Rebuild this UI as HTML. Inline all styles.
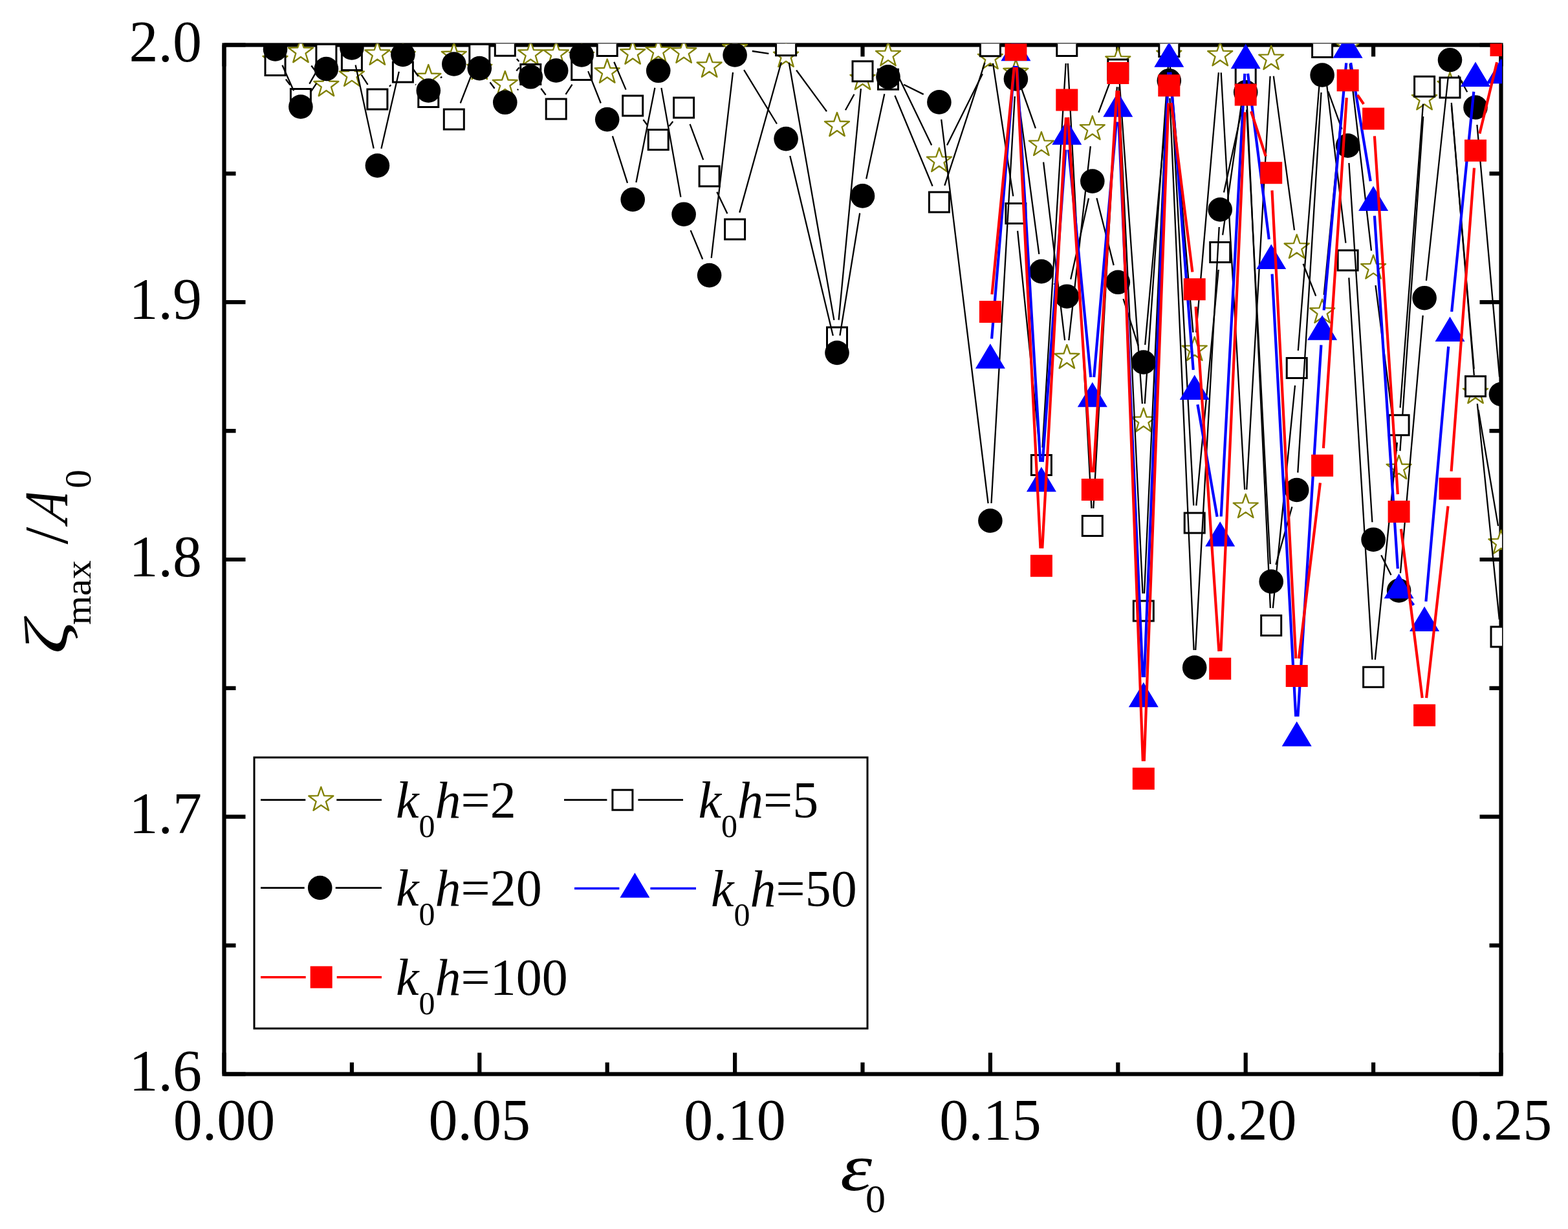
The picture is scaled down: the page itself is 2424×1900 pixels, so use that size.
<!DOCTYPE html><html><head><meta charset="utf-8"><title>plot</title><style>html,body{margin:0;padding:0;background:#fff;}svg{display:block;}text{font-family:"Liberation Serif","Times New Roman",serif;fill:#000;}</style></head><body>
<svg width="2424" height="1900" viewBox="0 0 2424 1900">
<rect width="2424" height="1900" fill="#fff"/>
<defs><clipPath id="cp"><rect x="344.5" y="67.5" width="1977.5" height="1595"/></clipPath></defs>
<path d="M346.5 1660.5v-33M346.5 69.5v33M543.9 1660.5v-18M543.9 69.5v18M741.3 1660.5v-33M741.3 69.5v33M938.7 1660.5v-18M938.7 69.5v18M1136.1 1660.5v-33M1136.1 69.5v33M1333.5 1660.5v-18M1333.5 69.5v18M1530.9 1660.5v-33M1530.9 69.5v33M1728.3 1660.5v-18M1728.3 69.5v18M1925.7 1660.5v-33M1925.7 69.5v33M2123.1 1660.5v-18M2123.1 69.5v18M2320.5 1660.5v-33M2320.5 69.5v33M346.5 1660.5h33M2320.5 1660.5h-33M346.5 1461.6h18M2320.5 1461.6h-18M346.5 1262.7h33M2320.5 1262.7h-33M346.5 1063.9h18M2320.5 1063.9h-18M346.5 865h33M2320.5 865h-33M346.5 666.1h18M2320.5 666.1h-18M346.5 467.2h33M2320.5 467.2h-33M346.5 268.4h18M2320.5 268.4h-18M346.5 69.5h33M2320.5 69.5h-33" stroke="#000" stroke-width="6.2" fill="none"/>
<rect x="346.5" y="69.5" width="1974" height="1591" fill="none" stroke="#000" stroke-width="6.2"/>
<g clip-path="url(#cp)">
<path d="M481.3 101.5L488.1 110.5M798.3 109.5L802.7 104.2M1162.8 79L1188.4 82.8M1231.1 108.5L1278 172.3M1307 170.3L1320.5 145.7M1384.7 109.4L1440.2 224.5M1464 224.6L1518.9 114.2M1579.4 137.5L1600.9 198.4M1613.1 250.7L1646.1 526.2M1652.3 526.2L1685.8 226.1M1698.3 174L1718.9 118.9M1730.2 120.5L1765.9 624.1M1769.7 624.1L1805.4 111.7M1809.6 111.7L1844.4 513.9M1849.1 513.9L1883.9 112.1M1887.7 112.2L1924.2 756.9M1927.2 756.9L1963.6 117.8M1968.8 117.6L2001 355.9M2014.6 407.8L2034.2 457.6M2046.7 455.8L2081 98.9M2086.7 98.8L2120 387.6M2126.5 441.2L2159.2 697.2M2164.4 697.1L2200.2 180.1M2243.8 158.9L2278.8 580.1M2285.5 633.6L2316 813.1" stroke="#000" stroke-width="2.3" fill="none"/>
<path d="M425.5 73L430.2 86.5L444.5 86.8L433.1 95.5L437.2 109.2L425.5 101L413.7 109.2L417.9 95.5L406.4 86.8L420.8 86.5ZM464.9 60L469.6 73.5L484 73.8L472.5 82.5L476.7 96.2L464.9 88L453.2 96.2L457.3 82.5L445.9 73.8L460.2 73.5ZM504.4 112L509.1 125.5L523.4 125.8L512 134.5L516.2 148.2L504.4 140L492.7 148.2L496.8 134.5L485.4 125.8L499.7 125.5ZM543.9 96.6L548.6 110.1L562.9 110.4L551.5 119.1L555.7 132.8L543.9 124.6L532.1 132.8L536.3 119.1L524.9 110.4L539.2 110.1ZM583.4 63.7L588.1 77.2L602.4 77.5L591 86.2L595.1 99.9L583.4 91.7L571.6 99.9L575.8 86.2L564.4 77.5L578.7 77.2ZM622.9 66L627.6 79.5L641.9 79.8L630.5 88.5L634.6 102.2L622.9 94L611.1 102.2L615.3 88.5L603.8 79.8L618.2 79.5ZM662.3 100L667 113.5L681.4 113.8L669.9 122.5L674.1 136.2L662.3 128L650.6 136.2L654.7 122.5L643.3 113.8L657.6 113.5ZM701.8 66L706.5 79.5L720.8 79.8L709.4 88.5L713.6 102.2L701.8 94L690.1 102.2L694.2 88.5L682.8 79.8L697.1 79.5ZM741.3 86L746 99.5L760.3 99.8L748.9 108.5L753.1 122.2L741.3 114L729.5 122.2L733.7 108.5L722.3 99.8L736.6 99.5ZM780.8 110L785.5 123.5L799.8 123.8L788.4 132.5L792.5 146.2L780.8 138L769 146.2L773.2 132.5L761.8 123.8L776.1 123.5ZM820.3 63.7L825 77.2L839.3 77.5L827.9 86.2L832 99.9L820.3 91.7L808.5 99.9L812.7 86.2L801.2 77.5L815.6 77.2ZM859.7 63.7L864.4 77.2L878.8 77.5L867.3 86.2L871.5 99.9L859.7 91.7L848 99.9L852.1 86.2L840.7 77.5L855 77.2ZM899.2 67L903.9 80.5L918.2 80.8L906.8 89.5L911 103.2L899.2 95L887.5 103.2L891.6 89.5L880.2 80.8L894.5 80.5ZM938.7 91.5L943.4 105L957.7 105.3L946.3 114L950.5 127.7L938.7 119.5L926.9 127.7L931.1 114L919.7 105.3L934 105ZM978.2 62.5L982.9 76L997.2 76.3L985.8 85L989.9 98.7L978.2 90.5L966.4 98.7L970.6 85L959.2 76.3L973.5 76ZM1017.7 59.3L1022.4 72.8L1036.7 73.1L1025.3 81.8L1029.4 95.5L1017.7 87.3L1005.9 95.5L1010.1 81.8L998.6 73.1L1013 72.8ZM1057.1 60.7L1061.8 74.2L1076.2 74.5L1064.7 83.2L1068.9 96.9L1057.1 88.7L1045.4 96.9L1049.5 83.2L1038.1 74.5L1052.4 74.2ZM1096.6 82.7L1101.3 96.2L1115.6 96.5L1104.2 105.2L1108.4 118.9L1096.6 110.7L1084.9 118.9L1089 105.2L1077.6 96.5L1091.9 96.2ZM1136.1 55L1140.8 68.5L1155.1 68.8L1143.7 77.5L1147.9 91.2L1136.1 83L1124.3 91.2L1128.5 77.5L1117.1 68.8L1131.4 68.5ZM1215.1 66.8L1219.8 80.3L1234.1 80.6L1222.7 89.3L1226.8 103L1215.1 94.8L1203.3 103L1207.5 89.3L1196 80.6L1210.4 80.3ZM1294 174L1298.7 187.5L1313 187.8L1301.6 196.5L1305.8 210.2L1294 202L1282.3 210.2L1286.4 196.5L1275 187.8L1289.3 187.5ZM1333.5 102L1338.2 115.5L1352.5 115.8L1341.1 124.5L1345.3 138.2L1333.5 130L1321.7 138.2L1325.9 124.5L1314.5 115.8L1328.8 115.5ZM1373 65.1L1377.7 78.6L1392 78.9L1380.6 87.6L1384.7 101.3L1373 93.1L1361.2 101.3L1365.4 87.6L1354 78.9L1368.3 78.6ZM1451.9 228.8L1456.6 242.3L1471 242.6L1459.5 251.3L1463.7 265L1451.9 256.8L1440.2 265L1444.3 251.3L1432.9 242.6L1447.2 242.3ZM1530.9 70L1535.6 83.5L1549.9 83.8L1538.5 92.5L1542.7 106.2L1530.9 98L1519.1 106.2L1523.3 92.5L1511.9 83.8L1526.2 83.5ZM1570.4 92L1575.1 105.5L1589.4 105.8L1578 114.5L1582.1 128.2L1570.4 120L1558.6 128.2L1562.8 114.5L1551.4 105.8L1565.7 105.5ZM1609.9 203.9L1614.6 217.4L1628.9 217.7L1617.5 226.4L1621.6 240.1L1609.9 231.9L1598.1 240.1L1602.3 226.4L1590.8 217.7L1605.2 217.4ZM1649.3 533L1654 546.5L1668.4 546.8L1656.9 555.5L1661.1 569.2L1649.3 561L1637.6 569.2L1641.7 555.5L1630.3 546.8L1644.6 546.5ZM1688.8 179.3L1693.5 192.8L1707.8 193.1L1696.4 201.8L1700.6 215.5L1688.8 207.3L1677.1 215.5L1681.2 201.8L1669.8 193.1L1684.1 192.8ZM1728.3 73.6L1733 87.1L1747.3 87.4L1735.9 96.1L1740.1 109.8L1728.3 101.6L1716.5 109.8L1720.7 96.1L1709.3 87.4L1723.6 87.1ZM1767.8 631L1772.5 644.5L1786.8 644.8L1775.4 653.5L1779.5 667.2L1767.8 659L1756 667.2L1760.2 653.5L1748.8 644.8L1763.1 644.5ZM1807.3 64.8L1812 78.3L1826.3 78.6L1814.9 87.3L1819 101L1807.3 92.8L1795.5 101L1799.7 87.3L1788.2 78.6L1802.6 78.3ZM1846.7 520.8L1851.4 534.3L1865.8 534.6L1854.3 543.3L1858.5 557L1846.7 548.8L1835 557L1839.1 543.3L1827.7 534.6L1842 534.3ZM1886.2 65.2L1890.9 78.7L1905.2 79L1893.8 87.7L1898 101.4L1886.2 93.2L1874.5 101.4L1878.6 87.7L1867.2 79L1881.5 78.7ZM1925.7 763.9L1930.4 777.4L1944.7 777.7L1933.3 786.4L1937.5 800.1L1925.7 791.9L1913.9 800.1L1918.1 786.4L1906.7 777.7L1921 777.4ZM1965.2 70.8L1969.9 84.3L1984.2 84.6L1972.8 93.3L1976.9 107L1965.2 98.8L1953.4 107L1957.6 93.3L1946.2 84.6L1960.5 84.3ZM2004.7 362.7L2009.4 376.2L2023.7 376.5L2012.3 385.2L2016.4 398.9L2004.7 390.7L1992.9 398.9L1997.1 385.2L1985.6 376.5L2000 376.2ZM2044.1 462.7L2048.8 476.2L2063.2 476.5L2051.7 485.2L2055.9 498.9L2044.1 490.7L2032.4 498.9L2036.5 485.2L2025.1 476.5L2039.4 476.2ZM2083.6 52L2088.3 65.5L2102.6 65.8L2091.2 74.5L2095.4 88.2L2083.6 80L2071.9 88.2L2076 74.5L2064.6 65.8L2078.9 65.5ZM2123.1 394.4L2127.8 407.9L2142.1 408.2L2130.7 416.9L2134.9 430.6L2123.1 422.4L2111.3 430.6L2115.5 416.9L2104.1 408.2L2118.4 407.9ZM2162.6 704L2167.3 717.5L2181.6 717.8L2170.2 726.5L2174.3 740.2L2162.6 732L2150.8 740.2L2155 726.5L2143.6 717.8L2157.9 717.5ZM2202.1 133.2L2206.8 146.7L2221.1 147L2209.7 155.7L2213.8 169.4L2202.1 161.2L2190.3 169.4L2194.5 155.7L2183 147L2197.4 146.7ZM2241.5 112L2246.2 125.5L2260.6 125.8L2249.1 134.5L2253.3 148.2L2241.5 140L2229.8 148.2L2233.9 134.5L2222.5 125.8L2236.8 125.5ZM2281 587L2285.7 600.5L2300 600.8L2288.6 609.5L2292.8 623.2L2281 615L2269.3 623.2L2273.4 609.5L2262 600.8L2276.3 600.5ZM2320.5 819.7L2325.2 833.2L2339.5 833.5L2328.1 842.2L2332.3 855.9L2320.5 847.7L2308.7 855.9L2312.9 842.2L2301.5 833.5L2315.8 833.2Z" stroke="#808000" stroke-width="2.3" fill="#fff" stroke-linejoin="round"/>
<path d="M441.8 122.5L448.6 131.5M478.3 129.6L491 107.4M558.7 115.6L568.6 130.9M601.9 133.8L604.4 131.2M642.2 130.4L643 131.1M711.7 159.5L731.4 109.1M798.8 90.9L802.3 94.9M836.3 136.7L843.7 146.8M874.5 145.9L884.5 130.6M949.3 95.8L967.6 138.6M994.4 185L1001.5 194.5M1034.5 195L1040.3 187.7M1066.6 191.9L1087.2 247.2M1108.3 296.8L1124.4 330.3M1143.3 328.6L1207.8 96.2M1219.7 96.8L1289.4 494.9M1296.6 494.6L1330.9 137.2M1383.4 147.7L1441.6 287.7M1460.3 286.9L1522.5 96.9M1535 97.9L1566.3 303.3M1573.1 356.9L1607.1 692M1611.5 691.9L1647.7 98M1650.8 98L1687.4 785.9M1690.3 785.9L1726.8 134.4M1729.6 134.4L1766.5 917.5M1769 917.5L1806 99M1808.7 99L1845.3 781.5M1849.3 781.6L1883.7 417M1890.1 363.4L1921.9 141.7M1926.9 142L1963.9 940M1967.8 940.1L2002 595.8M2006.8 542L2042 99.9M2047.4 99.8L2080.4 375.7M2085.3 429.4L2121.4 1019.8M2125.8 1019.8L2159.9 684.1M2164.6 630.3L2200 160.6M2243.8 162.3L2278.7 570.3M2283.8 624.1L2317.8 957.6" stroke="#000" stroke-width="2.3" fill="none"/>
<path d="M410 85.5h31v31h-31ZM449.4 137.5h31v31h-31ZM488.9 68.5h31v31h-31ZM528.4 77.5h31v31h-31ZM567.9 138h31v31h-31ZM607.4 96h31v31h-31ZM646.8 134.5h31v31h-31ZM686.3 169.1h31v31h-31ZM725.8 68.5h31v31h-31ZM765.3 55.3h31v31h-31ZM804.8 99.5h31v31h-31ZM844.2 153h31v31h-31ZM883.7 92.5h31v31h-31ZM923.2 55.5h31v31h-31ZM962.7 147.9h31v31h-31ZM1002.2 200.6h31v31h-31ZM1041.6 151.1h31v31h-31ZM1081.1 257h31v31h-31ZM1120.6 339.1h31v31h-31ZM1199.6 54.7h31v31h-31ZM1278.5 506h31v31h-31ZM1318 94.8h31v31h-31ZM1357.5 107.3h31v31h-31ZM1436.4 297.1h31v31h-31ZM1515.4 55.7h31v31h-31ZM1554.9 314.5h31v31h-31ZM1594.4 703.4h31v31h-31ZM1633.8 55.5h31v31h-31ZM1673.3 797.4h31v31h-31ZM1712.8 91.9h31v31h-31ZM1752.3 929h31v31h-31ZM1791.8 56.5h31v31h-31ZM1831.2 793h31v31h-31ZM1870.7 374.6h31v31h-31ZM1910.2 99.5h31v31h-31ZM1949.7 951.5h31v31h-31ZM1989.2 553.4h31v31h-31ZM2028.6 57.5h31v31h-31ZM2068.1 387h31v31h-31ZM2107.6 1031.2h31v31h-31ZM2147.1 641.7h31v31h-31ZM2186.6 118.2h31v31h-31ZM2226 119.9h31v31h-31ZM2265.5 581.7h31v31h-31ZM2305 969h31v31h-31Z" stroke="#000" stroke-width="3" fill="#fff"/>
<path d="M436.4 100.7L454 140.3M480 142.6L489.3 128.9M549.6 100.4L577.7 229.6M589.4 229.7L616.8 110.8M638.5 106.5L646.7 118M681.1 120.6L683.1 118.4M757.5 127.2L764.6 136.7M799.9 139.2L801.2 137.9M909.2 110.1L928.8 159.5M946.9 210.3L970 282.8M983.4 282L1012.4 135.8M1022.4 135.9L1052.4 304.6M1067.6 356.1L1086.2 400.7M1099.7 398.8L1133 111.8M1150.1 108.1L1201 191.5M1221.3 240.9L1287.8 519.1M1298.4 518.8L1329.2 329.5M1339.2 276.5L1367.3 145.2M1397.2 130.8L1427.7 145.9M1455.2 184.7L1527.6 778.2M1532.5 778L1568.8 149M1573.9 148.8L1606.3 392.8M1629.2 438.5L1630 439.3M1655.2 431.8L1683 306.5M1695.4 306.3L1721.7 410.1M1736.5 462L1759.6 534.3M1770.2 533.1L1804.8 151.6M1808.4 151.7L1845.6 1005M1848.2 1005L1884.7 351M1892 297.6L1920 168.9M1927.1 169.5L1963.8 872M1972.4 873L1997.4 783.5M2006.3 730.6L2042.5 142.9M2053.3 141.4L2074.4 199.7M2085.4 252L2121.4 807.3M2135.2 858.3L2150.5 888.9M2164.9 886.1L2199.7 487.6M2204.9 433.9L2238.7 119.5M2254.3 116.5L2268.2 142.2M2283.4 192.9L2318.1 582.6" stroke="#000" stroke-width="2.3" fill="none"/>
<g fill="#000"><circle cx="425.5" cy="76" r="18.8"/><circle cx="464.9" cy="165" r="18.8"/><circle cx="504.4" cy="106.5" r="18.8"/><circle cx="543.9" cy="74" r="18.8"/><circle cx="583.4" cy="256" r="18.8"/><circle cx="622.9" cy="84.5" r="18.8"/><circle cx="662.3" cy="140" r="18.8"/><circle cx="701.8" cy="99" r="18.8"/><circle cx="741.3" cy="105.6" r="18.8"/><circle cx="780.8" cy="158.3" r="18.8"/><circle cx="820.3" cy="118.8" r="18.8"/><circle cx="859.7" cy="109" r="18.8"/><circle cx="899.2" cy="85" r="18.8"/><circle cx="938.7" cy="184.6" r="18.8"/><circle cx="978.2" cy="308.5" r="18.8"/><circle cx="1017.7" cy="109.3" r="18.8"/><circle cx="1057.1" cy="331.2" r="18.8"/><circle cx="1096.6" cy="425.6" r="18.8"/><circle cx="1136.1" cy="85" r="18.8"/><circle cx="1215.1" cy="214.6" r="18.8"/><circle cx="1294" cy="545.4" r="18.8"/><circle cx="1333.5" cy="302.9" r="18.8"/><circle cx="1373" cy="118.8" r="18.8"/><circle cx="1451.9" cy="157.9" r="18.8"/><circle cx="1530.9" cy="805" r="18.8"/><circle cx="1570.4" cy="122" r="18.8"/><circle cx="1609.9" cy="419.6" r="18.8"/><circle cx="1649.3" cy="458.2" r="18.8"/><circle cx="1688.8" cy="280.1" r="18.8"/><circle cx="1728.3" cy="436.3" r="18.8"/><circle cx="1767.8" cy="560" r="18.8"/><circle cx="1807.3" cy="124.7" r="18.8"/><circle cx="1846.7" cy="1032" r="18.8"/><circle cx="1886.2" cy="324" r="18.8"/><circle cx="1925.7" cy="142.5" r="18.8"/><circle cx="1965.2" cy="899" r="18.8"/><circle cx="2004.7" cy="757.5" r="18.8"/><circle cx="2044.1" cy="116" r="18.8"/><circle cx="2083.6" cy="225.1" r="18.8"/><circle cx="2123.1" cy="834.2" r="18.8"/><circle cx="2162.6" cy="913" r="18.8"/><circle cx="2202.1" cy="460.7" r="18.8"/><circle cx="2241.5" cy="92.7" r="18.8"/><circle cx="2281" cy="166" r="18.8"/><circle cx="2320.5" cy="609.5" r="18.8"/></g>
<path d="M1533.1 523.6L1568.1 101.9M1572 102L1608.3 714M1611.8 714.1L1647.4 231.5M1652 231.5L1686.2 583.1M1691.2 583.1L1725.9 188.4M1729.5 188.5L1766.6 1047M1768.9 1047L1806.2 111.6M1809.3 111.5L1844.7 571.8M1851.4 625.3L1881.6 798.9M1887.7 798.5L1924.3 113.9M1929.1 113.7L1961.8 369.9M1966.6 423.7L2003.2 1107.6M2006.4 1107.7L2042.4 533.4M2046.6 479.6L2081.2 97.4M2088.1 97.1L2118.7 280.2M2124.9 333.7L2160.8 879.1M2179.1 927.3L2185.5 935.5M2204.4 929.9L2239.2 535.7M2244.2 481.9L2278.3 141.7" stroke="#0000ff" stroke-width="4.2" fill="none"/>
<path d="M1530.9 531.2L1553.9 569.8L1507.9 569.8ZM1570.4 55.8L1593.4 94.2L1547.4 94.2ZM1609.9 721.8L1632.9 760.2L1586.9 760.2ZM1649.3 185.3L1672.3 223.8L1626.3 223.8ZM1688.8 590.8L1711.8 629.2L1665.8 629.2ZM1728.3 142.2L1751.3 180.8L1705.3 180.8ZM1767.8 1054.8L1790.8 1093.2L1744.8 1093.2ZM1807.3 65.3L1830.3 103.8L1784.3 103.8ZM1846.7 579.5L1869.7 618L1823.7 618ZM1886.2 806.2L1909.2 844.8L1863.2 844.8ZM1925.7 67.7L1948.7 106.2L1902.7 106.2ZM1965.2 377.4L1988.2 415.9L1942.2 415.9ZM2004.7 1115.3L2027.7 1153.8L1981.7 1153.8ZM2044.1 487.2L2067.1 525.8L2021.1 525.8ZM2083.6 51.2L2106.6 89.8L2060.6 89.8ZM2123.1 287.6L2146.1 326.1L2100.1 326.1ZM2162.6 886.8L2185.6 925.2L2139.6 925.2ZM2202.1 937.5L2225.1 976L2179.1 976ZM2241.5 489.6L2264.5 528L2218.5 528ZM2281 95.5L2304 134.1L2258 134.1ZM2320.5 90.8L2343.5 129.2L2297.5 129.2Z" fill="#0000ff"/>
<path d="M1533.5 455.1L1567.8 103.9M1571.7 104L1608.5 847.7M1611.3 847.7L1647.9 181.5M1651.1 181.4L1687.1 730.1M1690.5 730.1L1726.6 140M1729.3 140.1L1766.8 1176.7M1768.8 1176.7L1806.3 159.3M1810.6 159.1L1843.4 420.4M1848.6 474.1L1884.4 1006.8M1887.4 1006.7L1924.5 173.4M1934.1 172.1L1956.8 241.6M1966.5 294.3L2003.3 1017.9M2007.9 1018.1L2040.9 746.6M2045.9 692.9L2081.8 151.2M2098.6 146.8L2108.1 160.9M2124.9 210.3L2160.8 764.1M2165.9 817.8L2198.7 1079M2205.1 1079L2238.5 782.4M2243.6 728.7L2279 259.7M2287.4 206.6L2314.1 96.2" stroke="#ff0000" stroke-width="4.2" fill="none"/>
<path d="M1513.9 465h34v34h-34ZM1553.4 60h34v34h-34ZM1592.9 857.7h34v34h-34ZM1632.3 137.5h34v34h-34ZM1671.8 740h34v34h-34ZM1711.3 96.1h34v34h-34ZM1750.8 1186.7h34v34h-34ZM1790.3 115.3h34v34h-34ZM1829.7 430.2h34v34h-34ZM1869.2 1016.7h34v34h-34ZM1908.7 129.4h34v34h-34ZM1948.2 250.3h34v34h-34ZM1987.7 1027.9h34v34h-34ZM2027.1 702.8h34v34h-34ZM2066.6 107.3h34v34h-34ZM2106.1 166.4h34v34h-34ZM2145.6 774h34v34h-34ZM2185.1 1088.8h34v34h-34ZM2224.5 738.6h34v34h-34ZM2264 215.8h34v34h-34ZM2303.5 53h34v34h-34Z" fill="#ff0000"/>
</g>
<text x="346.5" y="1762" font-size="90" text-anchor="middle">0.00</text>
<text x="741.3" y="1762" font-size="90" text-anchor="middle">0.05</text>
<text x="1136.1" y="1762" font-size="90" text-anchor="middle">0.10</text>
<text x="1530.9" y="1762" font-size="90" text-anchor="middle">0.15</text>
<text x="1925.7" y="1762" font-size="90" text-anchor="middle">0.20</text>
<text x="2320.5" y="1762" font-size="90" text-anchor="middle">0.25</text>
<text x="312" y="1686" font-size="90" text-anchor="end">1.6</text>
<text x="312" y="1288.2" font-size="90" text-anchor="end">1.7</text>
<text x="312" y="890.5" font-size="90" text-anchor="end">1.8</text>
<text x="312" y="492.8" font-size="90" text-anchor="end">1.9</text>
<text x="312" y="95" font-size="90" text-anchor="end">2.0</text>
<text transform="translate(1299 1840) scale(1.3 1.07)" x="0" y="0" font-size="96" font-style="italic">&#949;</text>
<text x="1338" y="1874" font-size="62">0</text>
<g transform="translate(104 1005) rotate(-90)" font-size="96"><text transform="translate(-6 0) scale(1.33 1)" font-style="italic">&#950;</text><text x="39" y="36" font-size="58">max</text><text x="163.5" y="0">/</text><text transform="translate(194.4 0) skewX(-14) scale(0.78 1)" font-style="italic">A</text><text x="250" y="36" font-size="58">0</text></g>
<rect x="393" y="1171" width="948" height="419" fill="#fff" stroke="#000" stroke-width="3"/>
<path d="M403 1236.7H472.3M520.3 1236.7H590" stroke="#000" stroke-width="2.75" fill="none"/><path d="M496.3 1216.7L501 1230.2L515.3 1230.5L503.9 1239.2L508.1 1252.9L496.3 1244.7L484.5 1252.9L488.7 1239.2L477.3 1230.5L491.6 1230.2Z" stroke="#808000" stroke-width="2.3" fill="#fff" stroke-linejoin="round"/><text x="612" y="1263.7" font-size="80"><tspan font-style="italic">k</tspan><tspan font-size="50" dy="30">0</tspan><tspan font-style="italic" dy="-30">h</tspan><tspan>=2</tspan></text>
<path d="M872 1236.7H938.4M986.4 1236.7H1056" stroke="#000" stroke-width="2.75" fill="none"/><rect x="946.9" y="1221.2" width="31" height="31" stroke="#000" stroke-width="3" fill="#fff"/><text x="1079.5" y="1263.7" font-size="80"><tspan font-style="italic">k</tspan><tspan font-size="50" dy="30">0</tspan><tspan font-style="italic" dy="-30">h</tspan><tspan>=5</tspan></text>
<path d="M403 1372.5H470.7M518.7 1372.5H590" stroke="#000" stroke-width="2.75" fill="none"/><circle cx="494.7" cy="1372.5" r="18.8" fill="#000"/><text x="612" y="1399.5" font-size="80"><tspan font-style="italic">k</tspan><tspan font-size="50" dy="30">0</tspan><tspan font-style="italic" dy="-30">h</tspan><tspan>=20</tspan></text>
<path d="M888 1373.5H957.4M1005.4 1373.5H1076" stroke="#0000ff" stroke-width="3.6" fill="none"/><path d="M981.4 1349.2L1004.4 1387.8L958.4 1387.8Z" fill="#0000ff"/><text x="1099" y="1400.5" font-size="80"><tspan font-style="italic">k</tspan><tspan font-size="50" dy="30">0</tspan><tspan font-style="italic" dy="-30">h</tspan><tspan>=50</tspan></text>
<path d="M403 1510.7H472.7M520.7 1510.7H590" stroke="#ff0000" stroke-width="3.6" fill="none"/><rect x="479.7" y="1493.7" width="34" height="34" fill="#ff0000"/><text x="612" y="1537.7" font-size="80"><tspan font-style="italic">k</tspan><tspan font-size="50" dy="30">0</tspan><tspan font-style="italic" dy="-30">h</tspan><tspan>=100</tspan></text>
</svg></body></html>
